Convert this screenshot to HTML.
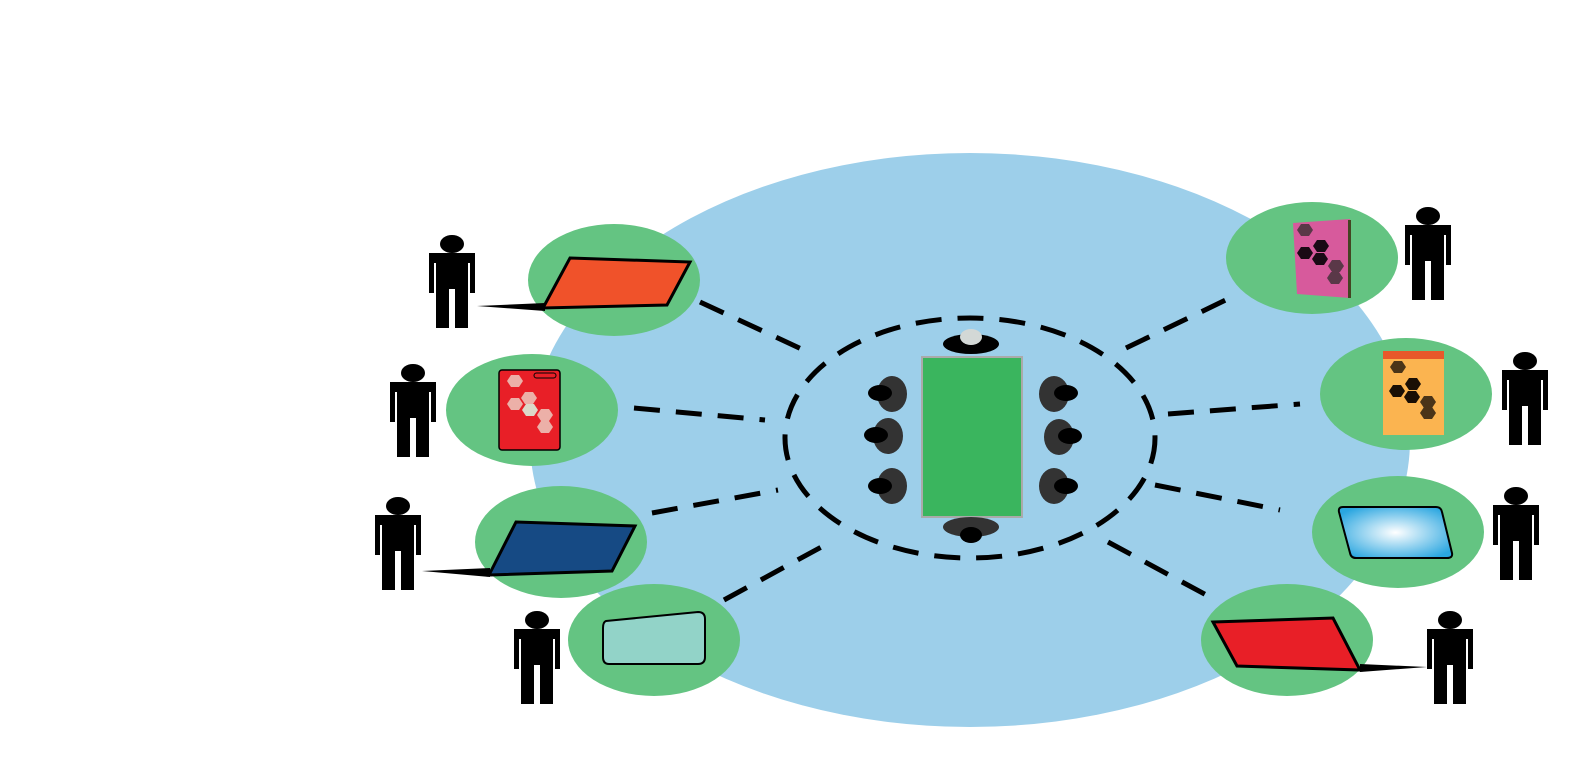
<!DOCTYPE html>
<html><head><meta charset="utf-8"><style>html,body{margin:0;padding:0;background:#fff}svg{display:block}</style></head><body>
<svg width="1583" height="775" viewBox="0 0 1583 775" xmlns="http://www.w3.org/2000/svg">
<defs>
<g id="p">
<ellipse cx="25" cy="9" rx="12" ry="9"/>
<path d="M2 18 H48 V58 H43 V28 H41 V93 H28 V54 H22 V93 H9 V28 H7 V58 H2 Z"/>
</g>
<radialGradient id="bg" cx="0.5" cy="0.5" r="0.6"><stop offset="0" stop-color="#fff"/><stop offset="1" stop-color="#2aa6e0"/></radialGradient>
<polygon id="hx" points="-8,0 -4,-6 4,-6 8,0 4,6 -4,6"/>
</defs>
<ellipse cx="970" cy="440" rx="440" ry="287" fill="#9dcfea"/>
<ellipse cx="970" cy="438" rx="185" ry="120" fill="none" stroke="#000" stroke-width="5" stroke-dasharray="26 16"/>
<g stroke="#000" stroke-width="5" stroke-dasharray="26 16">
<line x1="700" y1="302" x2="808" y2="352"/>
<line x1="634" y1="408" x2="765" y2="420"/>
<line x1="652" y1="513" x2="778" y2="490"/>
<line x1="724" y1="600" x2="825" y2="545"/>
<line x1="1126" y1="348" x2="1232" y2="297"/>
<line x1="1168" y1="414" x2="1300" y2="404"/>
<line x1="1155" y1="485" x2="1280" y2="510"/>
<line x1="1108" y1="542" x2="1210" y2="597"/>
</g>
<rect x="922" y="357" width="100" height="160" fill="#3ab55e" stroke="#aaa" stroke-width="2"/>
<ellipse cx="971" cy="344" rx="28" ry="10"/><ellipse cx="971" cy="337" rx="11" ry="8" fill="#d3d8d6"/>
<ellipse cx="971" cy="527" rx="28" ry="10" fill="#333"/><ellipse cx="971" cy="535" rx="11" ry="8"/>
<g fill="#333"><ellipse cx="892" cy="394" rx="15" ry="18"/><ellipse cx="888" cy="436" rx="15" ry="18"/><ellipse cx="892" cy="486" rx="15" ry="18"/>
<ellipse cx="1054" cy="394" rx="15" ry="18"/><ellipse cx="1059" cy="437" rx="15" ry="18"/><ellipse cx="1054" cy="486" rx="15" ry="18"/></g>
<g><ellipse cx="880" cy="393" rx="12" ry="8"/><ellipse cx="876" cy="435" rx="12" ry="8"/><ellipse cx="880" cy="486" rx="12" ry="8"/>
<ellipse cx="1066" cy="393" rx="12" ry="8"/><ellipse cx="1070" cy="436" rx="12" ry="8"/><ellipse cx="1066" cy="486" rx="12" ry="8"/></g>
<g fill="#64c482">
<ellipse cx="614" cy="280" rx="86" ry="56"/><ellipse cx="532" cy="410" rx="86" ry="56"/>
<ellipse cx="561" cy="542" rx="86" ry="56"/><ellipse cx="654" cy="640" rx="86" ry="56"/>
<ellipse cx="1312" cy="258" rx="86" ry="56"/><ellipse cx="1406" cy="394" rx="86" ry="56"/>
<ellipse cx="1398" cy="532" rx="86" ry="56"/><ellipse cx="1287" cy="640" rx="86" ry="56"/>
</g>
<!-- laptops -->
<polygon points="477,306 545,303 545,311" fill="#000"/>
<polygon points="570,258 690,262 667,305 543,308" fill="#f0522a" stroke="#000" stroke-width="3"/>
<polygon points="422,571 490,568 490,577" fill="#000"/>
<polygon points="516,522 635,526 612,571 489,575" fill="#164a84" stroke="#000" stroke-width="3"/>
<polygon points="1427,667 1360,664 1360,672" fill="#000"/>
<polygon points="1213,622 1333,618 1360,670 1237,666" fill="#e81f27" stroke="#000" stroke-width="3"/>
<!-- tablets -->
<path d="M606 621 L698 612 Q705 612 705 619 V657 Q705 664 698 664 H609 Q603 664 603 657 V628 Q603 622 606 621Z" fill="#92d3c8" stroke="#000" stroke-width="2"/>
<path d="M1343 507 H1436 Q1441 507 1442 512 L1452 553 Q1453 558 1447 558 H1356 Q1351 558 1350 553 L1339 512 Q1338 507 1343 507Z" fill="url(#bg)" stroke="#000" stroke-width="2"/>
<!-- phones -->
<rect x="499" y="370" width="61" height="80" rx="3" fill="#e81f27" stroke="#000" stroke-width="1.5"/>
<rect x="534" y="373" width="22" height="5" rx="2.5" fill="none" stroke="#000"/>
<g fill="#ecb0a8"><use href="#hx" x="515" y="381"/><use href="#hx" x="529" y="398"/><use href="#hx" x="515" y="404"/><use href="#hx" x="545" y="415"/><use href="#hx" x="545" y="427"/></g>
<use href="#hx" x="530" y="410" fill="#dcd8c8"/>
<polygon points="1293,223 1350,219 1350,298 1297,294" fill="#d75a9c"/>
<rect x="1348" y="220" width="3" height="78" fill="#442"/>
<g fill="#1a0a14"><use href="#hx" x="1321" y="246"/><use href="#hx" x="1305" y="253"/><use href="#hx" x="1320" y="259"/></g>
<g fill="#5a3848"><use href="#hx" x="1305" y="230"/><use href="#hx" x="1336" y="266"/><use href="#hx" x="1335" y="278"/></g>
<rect x="1383" y="351" width="61" height="84" fill="#fbb450"/>
<rect x="1383" y="351" width="61" height="8" fill="#e8582a"/>
<g fill="#1a0f05"><use href="#hx" x="1413" y="384"/><use href="#hx" x="1397" y="391"/><use href="#hx" x="1412" y="397"/></g>
<g fill="#4a3418"><use href="#hx" x="1398" y="367"/><use href="#hx" x="1428" y="402"/><use href="#hx" x="1428" y="413"/></g>
<!-- people -->
<use href="#p" x="427" y="235"/><use href="#p" x="388" y="364"/><use href="#p" x="373" y="497"/><use href="#p" x="512" y="611"/>
<use href="#p" x="1403" y="207"/><use href="#p" x="1500" y="352"/><use href="#p" x="1491" y="487"/><use href="#p" x="1425" y="611"/>
</svg>
</body></html>
